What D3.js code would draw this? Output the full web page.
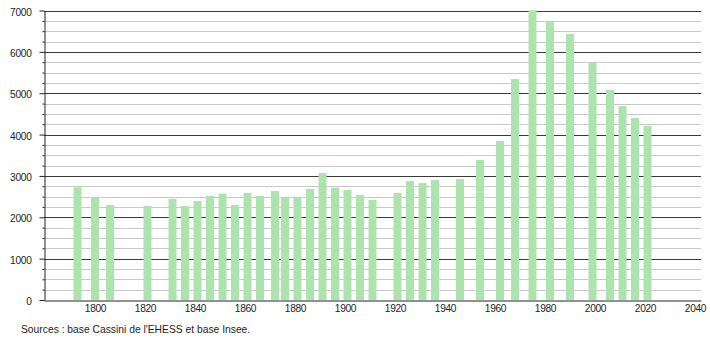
<!DOCTYPE html>
<html>
<head>
<meta charset="utf-8">
<script src="https://cdn.jsdelivr.net/npm/d3@7"></script>
<style>
  body { margin: 0; background: #fff; }
  svg text { font-family: "Liberation Sans", Arial, sans-serif; fill: #222; }
</style>
</head>
<body>
<svg id="chart" width="710" height="340"></svg>
<script>
// années de recensement
const years = [1793, 1800, 1806, 1821, 1831, 1836, 1841, 1846, 1851, 1856,
  1861, 1866, 1872, 1876, 1881, 1886, 1891, 1896, 1901, 1906, 1911,
  1921, 1926, 1931, 1936, 1946, 1954, 1962, 1968, 1975, 1982, 1990,
  1999, 2006, 2011, 2016, 2021];
// population
const population = [2725, 2474, 2297, 2273, 2442, 2273, 2394, 2515, 2571, 2297,
  2587, 2515, 2636, 2466, 2466, 2684, 3070, 2716, 2660, 2539, 2418,
  2587, 2877, 2829, 2901, 2925, 3385, 3844, 5343, 7005, 6730, 6431,
  5747, 5077, 4690, 4400, 4207];
const xTicks = [1800, 1820, 1840, 1860, 1880, 1900, 1920, 1940, 1960, 1980, 2000, 2020, 2040];
const yTicks = [0, 1000, 2000, 3000, 4000, 5000, 6000, 7000];

const data = years.map((y, i) => ({ year: y, value: population[i] }));

const svg = d3.select('#chart');

const x = d3.scaleLinear().domain([1779.6, 2042.4]).range([44, 701]);
const y = d3.scaleLinear().domain([0, 7000]).range([300, 10.5]);

const minor = d3.range(0, 7001, 250).filter((d) => d % 1000 !== 0);

// grille secondaire
svg.append('g')
  .selectAll('line')
  .data(minor)
  .join('line')
  .attr('x1', 44)
  .attr('x2', 701)
  .attr('y1', (d) => Math.round(y(d)) + 0.5)
  .attr('y2', (d) => Math.round(y(d)) + 0.5)
  .attr('stroke', '#c8c8c8');

// grille principale
svg.append('g')
  .selectAll('line')
  .data(yTicks.filter((d) => d > 0))
  .join('line')
  .attr('x1', 44)
  .attr('x2', 701)
  .attr('y1', (d) => Math.round(y(d)) + 0.5)
  .attr('y2', (d) => Math.round(y(d)) + 0.5)
  .attr('stroke', '#3a3a3a');

// barres
const bw = 8;
svg.append('g')
  .selectAll('rect')
  .data(data)
  .join('rect')
  .attr('x', (d) => x(d.year) - bw / 2)
  .attr('y', (d) => y(d.value))
  .attr('width', bw)
  .attr('height', (d) => y(0) - y(d.value))
  .attr('fill', '#ade3ad');

// axe Y
svg.append('g')
  .attr('transform', 'translate(44.5,0)')
  .call(d3.axisLeft(y).tickValues(minor).tickSize(2).tickFormat(''))
  .call((g) => g.select('.domain').remove())
  .call((g) => g.selectAll('line').attr('stroke', '#222'));

svg.append('g')
  .attr('transform', 'translate(44.5,0)')
  .call(d3.axisLeft(y).tickValues(yTicks).tickSize(5).tickPadding(8).tickSizeOuter(0).tickFormat(d3.format('d')))
  .call((g) => g.select('.domain').attr('stroke', '#222'))
  .call((g) => g.selectAll('line').attr('stroke', '#222'))
  .call((g) => g.selectAll('text').attr('font-size', 10.2).attr('letter-spacing', -0.3).attr('dy', '0.45em'));

// axe X
svg.append('g')
  .attr('transform', 'translate(0,300.5)')
  .call(d3.axisBottom(x).tickValues(xTicks).tickFormat(d3.format('d')).tickSize(0).tickPadding(4))
  .call((g) => g.select('.domain').attr('stroke', '#222'))
  .call((g) => g.selectAll('text').attr('font-size', 10.2).attr('letter-spacing', -0.3));

svg.append('text')
  .attr('x', 21)
  .attr('y', 333)
  .attr('font-size', 10.3)
  .text("Sources : base Cassini de l'EHESS et base Insee.");
</script>
</body>
</html>
